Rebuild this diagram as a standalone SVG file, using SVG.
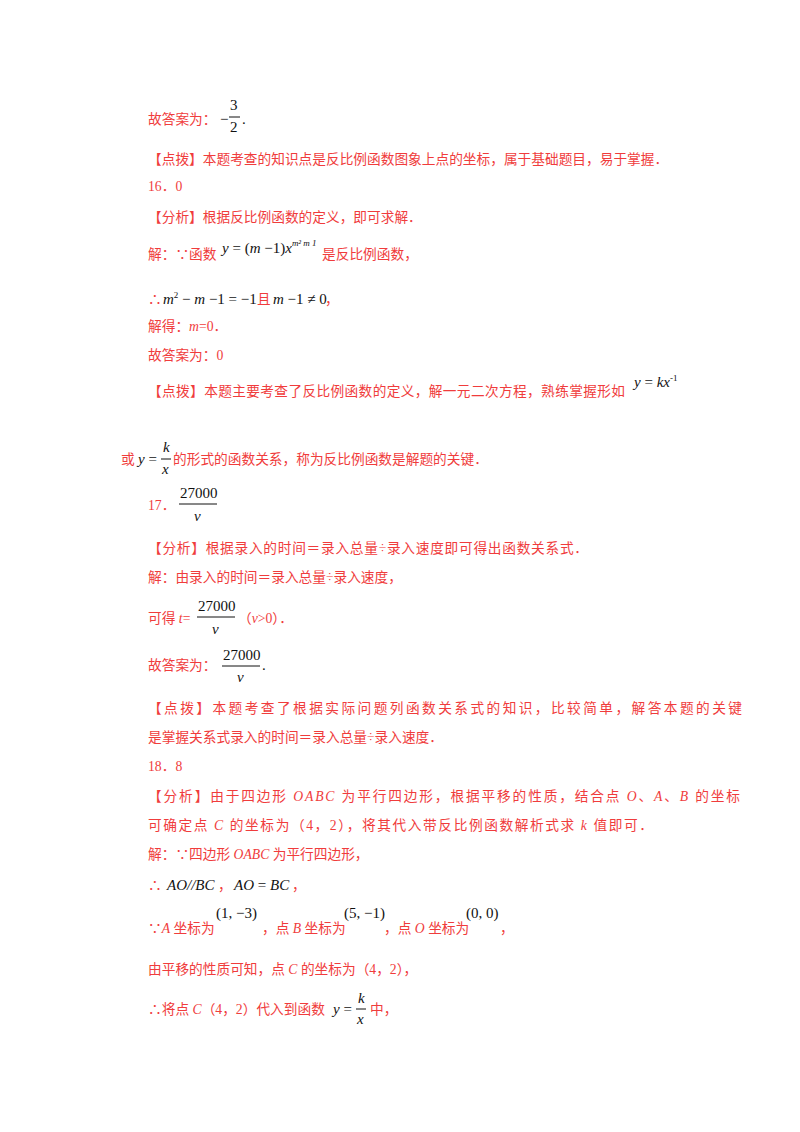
<svg xmlns="http://www.w3.org/2000/svg" width="800" height="1132" viewBox="0 0 800 1132">
<style>
.r{fill:#f03c3c;font-family:"Liberation Serif","Noto Sans CJK SC",serif;font-size:13.7px}
.m{fill:#111;font-family:"Liberation Serif",serif;font-size:15px}
.i{font-style:italic}
.s{font-size:9px}
.b{stroke:#111;stroke-width:1}
</style>
<rect width="800" height="1132" fill="#fff"/>
<g id="p1">
<text class="r" x="148" y="124">故答案为：</text>
<text class="m" x="220" y="124">−</text>
<text class="m" x="230" y="110">3</text><line class="b" x1="229" y1="117" x2="240" y2="117"/>
<text class="m" x="230" y="132">2</text><text class="m" x="242" y="124">.</text>
<text class="r" x="148" y="164">【点拨】本题考查的知识点是反比例函数图象上点的坐标，属于基础题目，易于掌握．</text>
<text class="r" x="148" y="191">16．0</text>
<text class="r" x="148" y="222">【分析】根据反比例函数的定义，即可求解．</text>
<text class="r" x="148" y="259">解：∵函数</text>
<text class="m i" x="222" y="253">y<tspan font-style="normal"> = (</tspan>m<tspan font-style="normal"> −1)</tspan>x<tspan class="s" dy="-7">m²  m  1</tspan></text>
<text class="r" x="322" y="259">是反比例函数，</text>
<text class="r" x="148" y="304">∴</text>
<text class="m" x="163" y="304"><tspan class="i">m</tspan><tspan class="s" dy="-6">2</tspan><tspan dy="6"> − </tspan><tspan class="i">m</tspan> −1 = −1</text>
<text class="r" x="257" y="304">且</text>
<text class="m" x="273" y="304"><tspan class="i">m</tspan> −1 ≠ 0</text>
<text class="r" x="325" y="304">，</text>
<text class="r" x="148" y="331">解得：<tspan class="i">m</tspan>=0．</text>
<text class="r" x="148" y="360">故答案为：0</text>
<text class="r" x="148" y="396" textLength="477" lengthAdjust="spacing">【点拨】本题主要考查了反比例函数的定义，解一元二次方程，熟练掌握形如</text>
<text class="m i" x="634" y="387">y<tspan font-style="normal"> = </tspan>kx<tspan class="s" font-style="normal" dy="-6">-1</tspan></text>
<text class="r" x="121" y="464">或</text>
<text class="m i" x="138" y="464">y<tspan font-style="normal"> =</tspan></text>
<text class="m i" x="163" y="452">k</text><line class="b" x1="161" y1="459" x2="171" y2="459"/>
<text class="m i" x="162" y="474">x</text>
<text class="r" x="173" y="464">的形式的函数关系，称为反比例函数是解题的关键．</text>
<text class="r" x="148" y="510">17．</text>
<text class="m" x="180" y="498">27000</text><line class="b" x1="179" y1="504" x2="217" y2="504"/>
<text class="m i" x="194" y="521">v</text>
<text class="r" x="148" y="553" textLength="440" lengthAdjust="spacing">【分析】根据录入的时间＝录入总量÷录入速度即可得出函数关系式．</text>
<text class="r" x="148" y="582">解：由录入的时间＝录入总量÷录入速度，</text>
<text class="r" x="148" y="623">可得 <tspan class="i">t</tspan>=</text>
<text class="m" x="198" y="611">27000</text><line class="b" x1="197" y1="617" x2="235" y2="617"/>
<text class="m i" x="212" y="634">v</text>
<text class="r" x="238" y="623">（<tspan class="i">v</tspan>&gt;0）．</text>
<text class="r" x="148" y="670">故答案为：</text>
<text class="m" x="223" y="660">27000</text><line class="b" x1="222" y1="666" x2="260" y2="666"/>
<text class="m i" x="237" y="682">v</text><text class="m" x="262" y="670">.</text>
<text class="r" x="148" y="713" textLength="594" lengthAdjust="spacing">【点拨】本题考查了根据实际问题列函数关系式的知识，比较简单，解答本题的关键</text>
<text class="r" x="148" y="742">是掌握关系式录入的时间＝录入总量÷录入速度．</text>
<text class="r" x="148" y="771">18．8</text>
<text class="r" x="148" y="801" textLength="592" lengthAdjust="spacing">【分析】由于四边形 <tspan class="i">OABC</tspan> 为平行四边形，根据平移的性质，结合点 <tspan class="i">O</tspan>、<tspan class="i">A</tspan>、<tspan class="i">B</tspan> 的坐标</text>
<text class="r" x="148" y="830" textLength="505" lengthAdjust="spacing">可确定点 <tspan class="i">C</tspan> 的坐标为（4，2），将其代入带反比例函数解析式求 <tspan class="i">k</tspan> 值即可．</text>
<text class="r" x="148" y="859">解：∵四边形 <tspan class="i">OABC</tspan> 为平行四边形，</text>
<text class="r" x="148" y="890">∴</text>
<text class="m i" x="167" y="890">AO//BC</text>
<text class="r" x="218" y="890">，</text>
<text class="m i" x="234" y="890">AO<tspan font-style="normal"> = </tspan>BC</text>
<text class="r" x="292" y="890">，</text>
<text class="r" x="148" y="933">∵<tspan class="i">A</tspan> 坐标为</text>
<text class="m" x="216" y="918">(1, −3)</text>
<text class="r" x="262" y="933">，点 <tspan class="i">B</tspan> 坐标为</text>
<text class="m" x="344" y="918">(5, −1)</text>
<text class="r" x="384" y="933">，点 <tspan class="i">O</tspan> 坐标为</text>
<text class="m" x="466" y="918">(0, 0)</text>
<text class="r" x="500" y="933">，</text>
<text class="r" x="148" y="974">由平移的性质可知，点 <tspan class="i">C</tspan> 的坐标为（4，2），</text>
<text class="r" x="148" y="1014">∴将点 <tspan class="i">C</tspan>（4，2）代入到函数</text>
<text class="m i" x="333" y="1014">y<tspan font-style="normal"> =</tspan></text>
<text class="m i" x="358" y="1003">k</text><line class="b" x1="356" y1="1009" x2="366" y2="1009"/>
<text class="m i" x="357" y="1024">x</text>
<text class="r" x="370" y="1014">中，</text>
</g>
</svg>
